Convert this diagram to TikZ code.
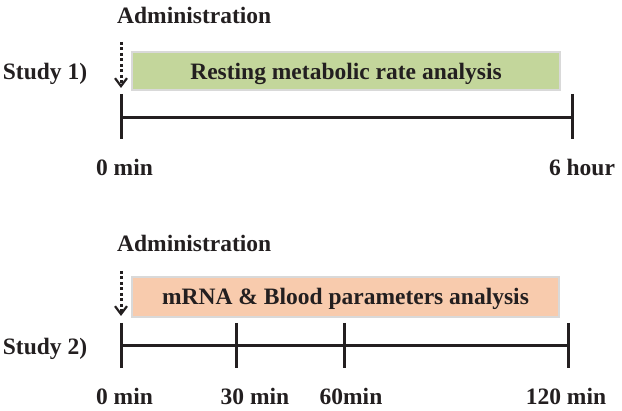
\documentclass[tikz,border=0pt]{standalone}
\usepackage{fontspec}
\setmainfont{Liberation Serif}
\usetikzlibrary{arrows.meta}
\definecolor{ink}{RGB}{35,31,32}
\definecolor{boxgreen}{HTML}{C3D69B}
\definecolor{boxorange}{HTML}{F8CBAD}
\definecolor{boxedge}{HTML}{D9D9D9}
\begin{document}
\begin{tikzpicture}[x=1pt,y=-1pt,
  lbl/.style={font=\fontsize{23.5}{28}\selectfont\bfseries, text=ink, inner sep=0pt, anchor=base},
  phase/.style={draw=boxedge, line width=2pt, font=\fontsize{23.5}{28}\selectfont\bfseries, text=ink,
     inner xsep=0pt, inner ysep=0pt, anchor=base},
  axis/.style={draw=ink, line width=3pt},
  admin/.style={draw=ink, line width=3pt, dash pattern=on 3pt off 2.5pt,
     -{Straight Barb[length=8pt,width=12pt,line width=2.2pt]}}
]
\useasboundingbox (0,0) rectangle (622,411);

% ---------- Study 1 ----------
\node[lbl] (s1) at (45,80) {Study 1)};
\node[lbl, anchor=base west] (adm1) at (117,24) {Administration};
\node[phase, fill=boxgreen, minimum width=428pt, text height=28pt, text depth=10pt] (b1) at (346,80)
  {Resting metabolic rate analysis};
\coordinate (a1s) at (121,42);
\coordinate (a1e) at (121,88);
\draw[admin] (a1s) -- (a1e);

\coordinate (p0) at (121,118);
\coordinate (p1) at (572,118);
\draw[axis] (p0) -- (p1);
\draw[axis] ([yshift=24pt]p0) -- ([yshift=-21pt]p0);
\draw[axis] ([yshift=24pt]p1) -- ([yshift=-21pt]p1);
\node[lbl] (l10) at (124.5,176) {0 min};
\node[lbl] (l11) at (582,176) {6 hour};

% ---------- Study 2 ----------
\node[lbl] (s2) at (45,355) {Study 2)};
\node[lbl, anchor=base west] (adm2) at (117,252) {Administration};
\node[phase, fill=boxorange, minimum width=427pt, text height=28pt, text depth=12pt] (b2) at (345.5,305)
  {mRNA \& Blood parameters analysis};
\coordinate (a2s) at (121,271);
\coordinate (a2e) at (121,316);
\draw[admin] (a2s) -- (a2e);

\coordinate (q0) at (121,346);
\coordinate (q1) at (236,346);
\coordinate (q2) at (344,346);
\coordinate (q3) at (568,346);
\draw[axis] (q0) -- (q3);
\foreach \c in {q0,q1,q2,q3}
  \draw[axis] ([yshift=23pt]\c) -- ([yshift=-22pt]\c);
\node[lbl] (l20) at (124.5,405) {0 min};
\node[lbl] (l21) at (255,405) {30 min};
\node[lbl] (l22) at (351,405) {60min};
\node[lbl] (l23) at (566,405) {120 min};
\end{tikzpicture}
\end{document}
